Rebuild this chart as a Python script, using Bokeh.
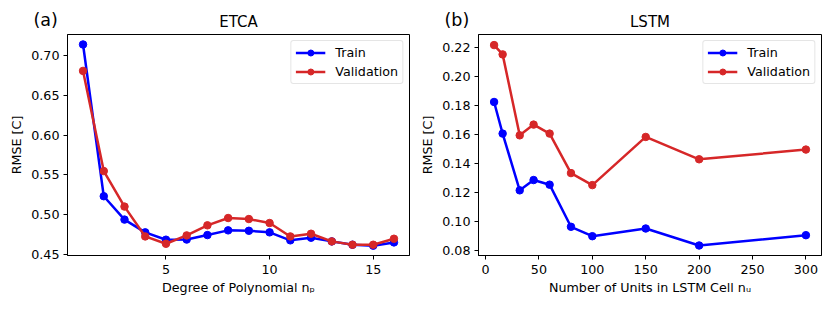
from bokeh.plotting import figure
from bokeh.layouts import row, column
from bokeh.models import Label, Legend, LegendItem, FixedTicker, PrintfTickFormatter, Range1d
from bokeh.embed import file_html
from bokeh.resources import INLINE

# ETCA data
etca_degree = list(range(1, 17))
etca_train = [0.7135, 0.5233, 0.494, 0.478, 0.4688, 0.469, 0.4746, 0.4805, 0.480, 0.478,
              0.468, 0.4713, 0.4667, 0.4625, 0.4613, 0.4654]
etca_val = [0.6804, 0.5548, 0.5103, 0.4729, 0.4637, 0.4742, 0.4868, 0.4960, 0.4947, 0.4897,
            0.4729, 0.4763, 0.4667, 0.4625, 0.4625, 0.4700]
etca_xticks = [5, 10, 15]
etca_yticks = [0.45, 0.50, 0.55, 0.60, 0.65, 0.70]

# LSTM data
lstm_units = [8, 16, 32, 45, 60, 80, 100, 150, 200, 300]
lstm_train = [0.1824, 0.1606, 0.1215, 0.1286, 0.1254, 0.0964, 0.0899, 0.0952, 0.0835, 0.0906]
lstm_val = [0.2216, 0.2152, 0.1594, 0.1668, 0.1606, 0.1334, 0.1251, 0.1583, 0.1429, 0.1496]
lstm_xticks = [0, 50, 100, 150, 200, 250, 300]
lstm_yticks = [0.08, 0.10, 0.12, 0.14, 0.16, 0.18, 0.20, 0.22]

titles = ["ETCA", "LSTM"]
tags = ["(a)", "(b)"]

BLUE = "#0000ff"
RED = "#d62728"
FONT = "DejaVu Sans"
TICK_FS = "12.7px"

HEADER_H = 30
FRAME_H = 221
LEFT_W, LEFT_MBL, LEFT_MBR, LEFT_FW = 413, 67, 4, 342
RIGHT_W, RIGHT_MBL, RIGHT_MBR, RIGHT_FW = 414, 65, 6, 343


def make_panel(x, ytr, yva, xr, yr, xticks, yticks, xlabel, width, mbl, mbr):
    p = figure(width=width, height=FRAME_H + 4 + 50, output_backend="svg", toolbar_location=None,
               x_range=Range1d(*xr), y_range=Range1d(*yr),
               min_border_left=mbl, min_border_right=mbr, min_border_top=4, min_border_bottom=50)
    p.outline_line_color = "black"
    p.outline_line_width = 1
    p.xgrid.visible = False
    p.ygrid.visible = False
    for ax in (p.xaxis[0], p.yaxis[0]):
        ax.major_label_text_font = FONT
        ax.major_label_text_font_size = TICK_FS
        ax.major_label_text_color = "black"
        ax.axis_label_text_font = FONT
        ax.axis_label_text_font_size = TICK_FS
        ax.axis_label_text_font_style = "normal"
        ax.axis_label_text_color = "black"
        ax.minor_tick_line_color = None
        ax.major_tick_in = 0
        ax.major_tick_out = 4
        ax.major_tick_line_color = "black"
        ax.axis_line_color = "black"
    p.xaxis[0].ticker = FixedTicker(ticks=xticks)
    p.yaxis[0].ticker = FixedTicker(ticks=yticks)
    p.yaxis[0].formatter = PrintfTickFormatter(format="%.2f")
    p.xaxis[0].axis_label = xlabel
    p.xaxis[0].major_label_standoff = 5
    p.xaxis[0].axis_label_standoff = 3
    p.yaxis[0].axis_label = "RMSE [C]"
    p.yaxis[0].major_label_standoff = 4
    p.yaxis[0].axis_label_standoff = 4

    l1 = p.line(x, ytr, line_color=BLUE, line_width=2.5)
    s1 = p.scatter(x, ytr, size=7.5, fill_color=BLUE, line_color=BLUE)
    l2 = p.line(x, yva, line_color=RED, line_width=2.5)
    s2 = p.scatter(x, yva, size=7.5, fill_color=RED, line_color=RED)

    legend = Legend(items=[LegendItem(label="Train", renderers=[l1, s1]),
                           LegendItem(label="Validation", renderers=[l2, s2])],
                    location="top_right")
    legend.label_text_font = FONT
    legend.label_text_font_size = TICK_FS
    legend.label_text_color = "black"
    legend.glyph_width = 30
    legend.glyph_height = 15
    legend.label_height = 15
    legend.label_standoff = 10
    legend.padding = 4
    legend.spacing = 4
    legend.margin = 6
    legend.border_line_color = "#cccccc"
    legend.border_line_width = 1
    legend.background_fill_alpha = 0.8
    if "border_radius" in legend.properties():
        legend.border_radius = 3
    p.add_layout(legend)
    return p


p1 = make_panel(etca_degree, etca_train, etca_val, (0.25, 16.75), (0.449, 0.726),
                etca_xticks, etca_yticks, "Degree of Polynomial nₚ",
                LEFT_W, LEFT_MBL, LEFT_MBR)
p2 = make_panel(lstm_units, lstm_train, lstm_val, (-6.6, 314.6), (0.0766, 0.2289),
                lstm_xticks, lstm_yticks, "Number of Units in LSTM Cell nᵤ",
                RIGHT_W, RIGHT_MBL, RIGHT_MBR)

# header strip holding panel titles and tags (pixel-based layout coordinates)
total_w = LEFT_W + RIGHT_W
header = figure(width=total_w, height=HEADER_H, output_backend="svg", toolbar_location=None,
                x_range=Range1d(0, total_w), y_range=Range1d(0, HEADER_H),
                min_border=0, x_axis_type=None, y_axis_type=None)
header.outline_line_color = None
header.xgrid.visible = False
header.ygrid.visible = False
frame_left = [LEFT_MBL, LEFT_W + RIGHT_MBL]
frame_w = [LEFT_FW, RIGHT_FW]
for i in range(2):
    header.add_layout(Label(x=frame_left[i] + frame_w[i] / 2, y=HEADER_H - 21.5, text=titles[i],
                            text_font=FONT, text_font_size="15px", text_align="center",
                            text_baseline="middle", text_color="black"))
    header.add_layout(Label(x=frame_left[i] - 34, y=HEADER_H - 19, text=tags[i],
                            text_font=FONT, text_font_size="17.5px", text_align="left",
                            text_baseline="middle", text_color="black"))

layout = column(header, row(p1, p2), spacing=0)
open("out.html", "w").write(file_html(layout, INLINE))
